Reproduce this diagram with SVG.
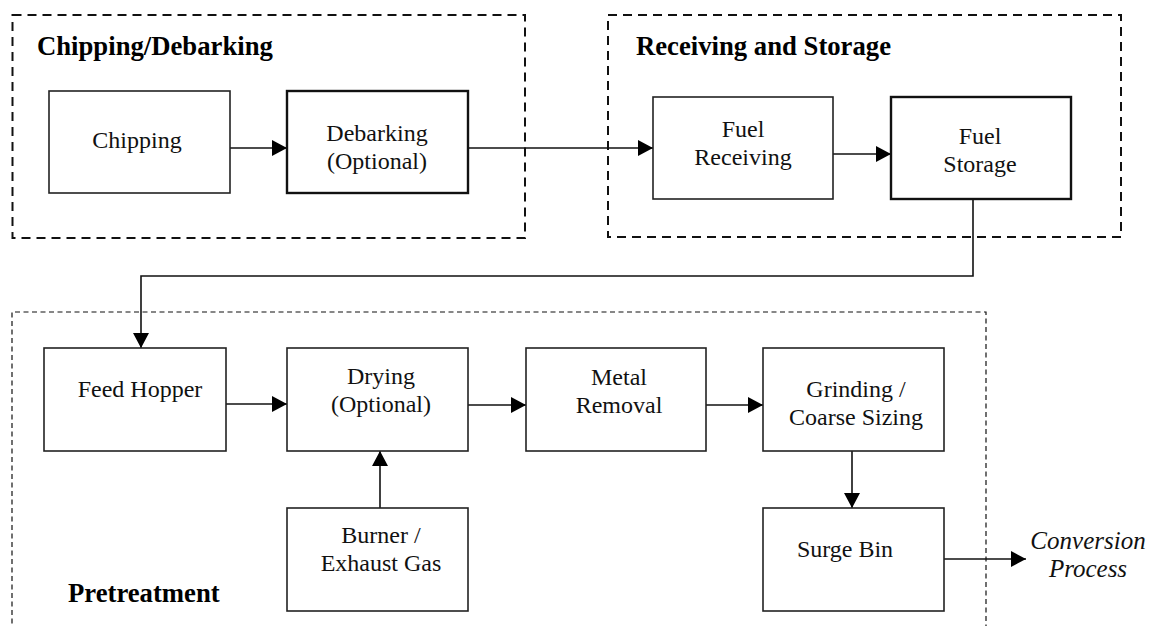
<svg xmlns="http://www.w3.org/2000/svg" width="1154" height="626" viewBox="0 0 1154 626">
  <style>
    .box { fill: #fff; stroke: #222; stroke-width: 1.6; }
    .box.heavy { stroke: #111; stroke-width: 2.4; }
    .group { fill: none; stroke: #111; stroke-width: 2; stroke-dasharray: 9 6; }
    .group.fine { stroke-width: 1.2; stroke-dasharray: 5 3.5; }
    .label { font-family: "Liberation Serif", "Times New Roman", serif; font-size: 24px; fill: #111; text-anchor: middle; }
    .title { font-family: "Liberation Serif", "Times New Roman", serif; font-size: 26.7px; font-weight: bold; fill: #000; }
    .out { font-style: italic; font-size: 25px; }
    .wire { fill: none; stroke: #111; stroke-width: 1.6; }
  </style>
  <defs>
    <marker id="arrow" markerUnits="userSpaceOnUse" markerWidth="16" markerHeight="16" refX="15" refY="8" orient="auto">
      <path d="M0,0 L15,8 L0,16 z" fill="#000"/>
    </marker>
  </defs>

  <rect width="1154" height="626" fill="#fff"/>

  <!-- process areas -->
  <g id="area-chipping">
    <rect class="group" x="12.5" y="15" width="512.5" height="223"/>
    <text class="title" x="37" y="55">Chipping/Debarking</text>
  </g>
  <g id="area-receiving">
    <rect class="group" x="608" y="15" width="513" height="222"/>
    <text class="title" x="636" y="55">Receiving and Storage</text>
  </g>
  <g id="area-pretreatment">
    <path class="group fine" d="M12,632 L12,312 L986,312 L986,632"/>
    <text class="title" x="68" y="602">Pretreatment</text>
  </g>

  <!-- connectors -->
  <g id="connectors">
    <path class="wire" d="M230,148 L287,148" marker-end="url(#arrow)"/>
    <path class="wire" d="M468,148 L653,148" marker-end="url(#arrow)"/>
    <path class="wire" d="M833,154 L891,154" marker-end="url(#arrow)"/>
    <path class="wire" d="M973,199 L973,276 L141,276 L141,348" marker-end="url(#arrow)"/>
    <path class="wire" d="M226,404 L287,404" marker-end="url(#arrow)"/>
    <path class="wire" d="M468,405 L526,405" marker-end="url(#arrow)"/>
    <path class="wire" d="M706,405 L763,405" marker-end="url(#arrow)"/>
    <path class="wire" d="M852,451 L852,508" marker-end="url(#arrow)"/>
    <path class="wire" d="M380,508 L380,451" marker-end="url(#arrow)"/>
    <path class="wire" d="M944,559 L1026,559" marker-end="url(#arrow)"/>
  </g>

  <!-- process steps -->
  <g id="chipping">
    <rect class="box" x="49" y="91" width="181" height="102"/>
    <text class="label" x="137" y="148">Chipping</text>
  </g>
  <g id="debarking">
    <rect class="box heavy" x="287" y="91" width="181" height="102"/>
    <text class="label" x="377" y="141">Debarking</text>
    <text class="label" x="377" y="169">(Optional)</text>
  </g>
  <g id="fuel-receiving">
    <rect class="box" x="653" y="97" width="180" height="102"/>
    <text class="label" x="743" y="137">Fuel</text>
    <text class="label" x="743" y="165">Receiving</text>
  </g>
  <g id="fuel-storage">
    <rect class="box heavy" x="891" y="97" width="180" height="102"/>
    <text class="label" x="980" y="144">Fuel</text>
    <text class="label" x="980" y="172">Storage</text>
  </g>
  <g id="feed-hopper">
    <rect class="box" x="44" y="348" width="182" height="103"/>
    <text class="label" x="140" y="397">Feed Hopper</text>
  </g>
  <g id="drying">
    <rect class="box" x="287" y="348" width="181" height="103"/>
    <text class="label" x="381" y="384">Drying</text>
    <text class="label" x="381" y="412">(Optional)</text>
  </g>
  <g id="metal-removal">
    <rect class="box" x="526" y="348" width="180" height="103"/>
    <text class="label" x="619" y="385">Metal</text>
    <text class="label" x="619" y="413">Removal</text>
  </g>
  <g id="grinding">
    <rect class="box" x="763" y="348" width="181" height="103"/>
    <text class="label" x="856" y="397">Grinding /</text>
    <text class="label" x="856" y="425">Coarse Sizing</text>
  </g>
  <g id="burner">
    <rect class="box" x="287" y="508" width="181" height="103"/>
    <text class="label" x="381" y="543">Burner /</text>
    <text class="label" x="381" y="571">Exhaust Gas</text>
  </g>
  <g id="surge-bin">
    <rect class="box" x="763" y="508" width="181" height="103"/>
    <text class="label" x="845" y="557">Surge Bin</text>
  </g>
  <g id="conversion">
    <text class="label out" x="1088" y="549">Conversion</text>
    <text class="label out" x="1088" y="577">Process</text>
  </g>
</svg>
